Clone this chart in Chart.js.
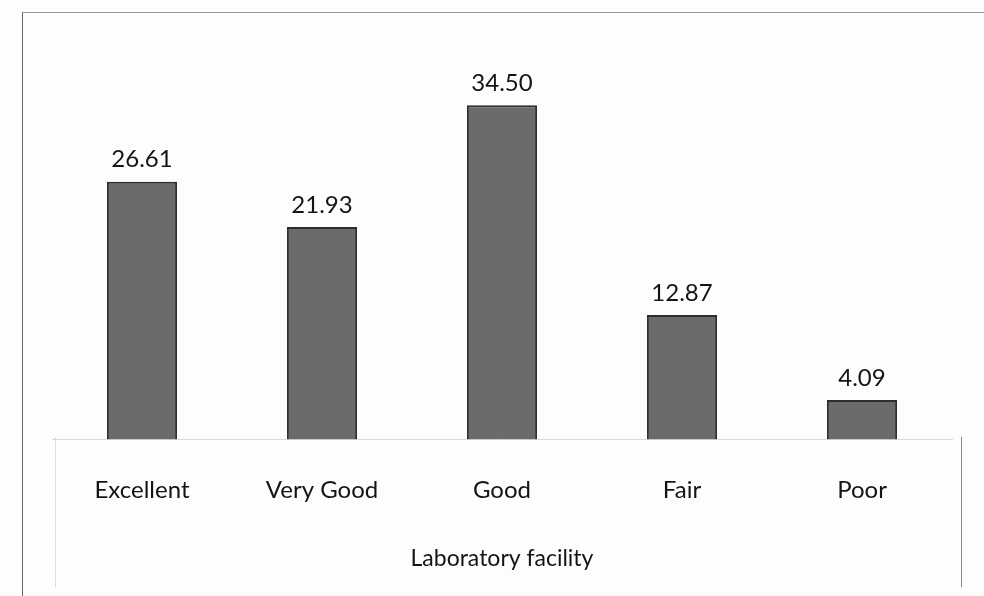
<!DOCTYPE html>
<html>
<head>
<meta charset="utf-8">
<script src="https://cdn.jsdelivr.net/npm/chart.js@4"></script>
<style>
  html, body { margin: 0; padding: 0; background: #fdfdfd; }
  #wrap { position: relative; width: 984px; height: 596px; }
  #frame { position: absolute; left: 22px; top: 12px; right: 0; bottom: -2px;
           border-left: 1px solid #666; border-top: 1px solid #999; }
  #inner { position: absolute; left: 55px; top: 437px; width: 905px; height: 150px;
           border-left: 1px solid #ddd; border-right: 1px solid #888; }
  canvas { position: absolute; left: 0; top: 0; }
</style>
</head>
<body>
<div id="wrap">
  <div id="frame"></div>
  <div id="inner"></div>
  <canvas id="labChart" width="984" height="596"></canvas>
</div>
<script>
  // data
  const categories = ['Excellent', 'Very Good', 'Good', 'Fair', 'Poor'];
  const percents = [26.61, 21.93, 34.50, 12.87, 4.09];
  const axisTitle = 'Laboratory facility';

  const fontFamily = 'Lato, "Open Sans", sans-serif';

  // value labels above every bar
  const valueLabels = {
    id: 'valueLabels',
    afterDatasetsDraw(chart) {
      const ctx = chart.ctx;
      const meta = chart.getDatasetMeta(0);
      ctx.save();
      ctx.font = '24px ' + fontFamily;
      ctx.fillStyle = '#141414';
      ctx.textAlign = 'center';
      ctx.textBaseline = 'bottom';
      meta.data.forEach((bar, i) => {
        ctx.fillText(percents[i].toFixed(2), bar.x, bar.y - 10);
      });
      ctx.restore();
    }
  };

  const ctx = document.getElementById('labChart').getContext('2d');
  const labChart = new Chart(ctx, {
    type: 'bar',
    data: {
      labels: categories,
      datasets: [{
        data: percents,
        backgroundColor: '#6b6b6b',
        borderColor: '#2e2e2e',
        borderWidth: 2,
        categoryPercentage: 1,
        barPercentage: 0.39
      }]
    },
    options: {
      responsive: false,
      animation: false,
      layout: { padding: { left: 52, right: 32, top: 52, bottom: 0 } },
      plugins: {
        legend: { display: false },
        tooltip: { enabled: false }
      },
      scales: {
        x: {
          grid: { display: false, drawTicks: false },
          border: { display: true, color: '#d8d8d8', width: 1 },
          ticks: { color: '#141414', font: { family: fontFamily, size: 24 }, padding: 36 },
          title: {
            display: true,
            text: axisTitle,
            color: '#141414',
            font: { family: fontFamily, size: 23 },
            padding: { top: 4, bottom: 24 }
          }
        },
        y: {
          display: false,
          min: 0,
          max: 40
        }
      }
    },
    plugins: [valueLabels]
  });
</script>
</body>
</html>
